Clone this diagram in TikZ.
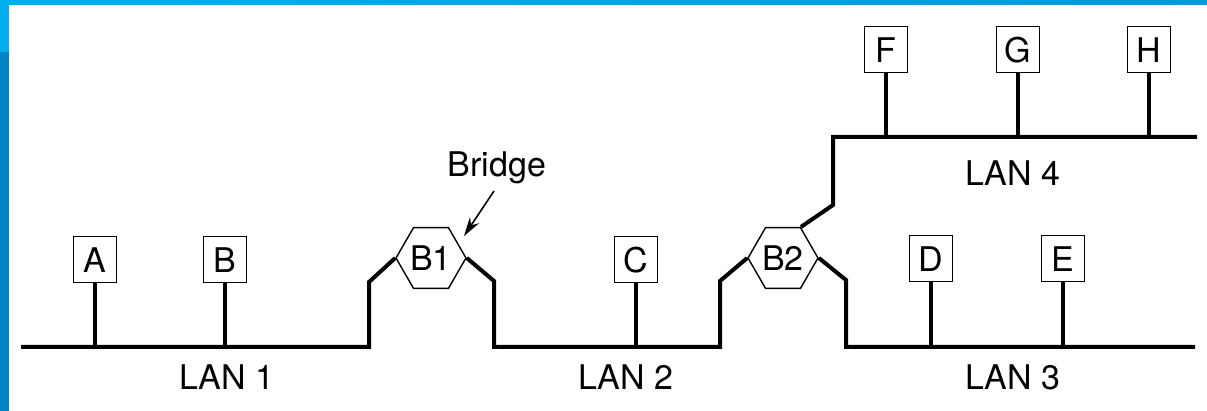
\documentclass[tikz,border=0pt]{standalone}
\usepackage{fontspec}
\setmainfont{TeX Gyre Heros}
\usetikzlibrary{arrows.meta,positioning,shapes.geometric}
\definecolor{skyA}{HTML}{00AEEF}
\definecolor{skyB}{HTML}{0098D8}
\definecolor{skyC}{HTML}{0086C5}
\newcommand\lanfont{\fontsize{34}{40}\selectfont}

\begin{document}
\begin{tikzpicture}[x=1pt, y=-1pt,
  stn/.style={draw, line width=1pt, minimum width=43pt, minimum height=46pt,
              inner sep=0pt, font=\lanfont},
  brg/.style={draw, line width=1.4pt, regular polygon, regular polygon sides=6,
              minimum size=70pt, inner sep=0pt, font=\lanfont},
  lan/.style={line width=4pt},
  lbl/.style={inner sep=2pt, font=\lanfont},
  >=Stealth]
  % backdrop
  \fill[white] (0,0) rectangle (1207,411);
  \shade[left color=skyA, right color=skyB] (0,0) rectangle (1207,5);
  \fill[skyA] (0,5) rectangle (9,52);
  \fill[skyC] (0,52) rectangle (9,411);

  % bridges
  \node[brg] (b1) at (431,258) {B1};
  \node[brg] (b2) at (783,258) {B2};
  \node[lbl] (brlab) at (497,168) {Bridge};
  \coordinate (tail) at (494,191);
  \coordinate (tip) at (464,236);
  \draw[->, line width=1.6pt, >={Stealth[length=19pt,width=11pt]}] (tail) -- (tip);

  % LAN 1
  \coordinate (l1w) at (21,347);
  \coordinate (l1e) at (369,347);
  \coordinate (k1) at (369,282);
  \draw[lan] (l1w) -- (l1e) -- (k1) -- (b1.180);
  \node[stn] (a) at (95,260) {A};
  \node[stn] (b) at (225,260) {B};
  \draw[lan] (a) -- (a |- l1w);
  \draw[lan] (b) -- (b |- l1w);
  \node[lbl] (lan1) at (227,377) {LAN 1};

  % LAN 2
  \coordinate (k2) at (494,281);
  \coordinate (l2w) at (494,347);
  \coordinate (l2e) at (720,347);
  \coordinate (k3) at (720,281);
  \draw[lan] (b1.0) -- (k2) -- (l2w) -- (l2e) -- (k3) -- (b2.180);
  \node[stn] (c) at (636,260) {C};
  \draw[lan] (c) -- (c |- l2w);
  \node[lbl] (lan2) at (626,377) {LAN 2};

  % LAN 3
  \coordinate (k4) at (846,280);
  \coordinate (l3w) at (846,347);
  \coordinate (l3e) at (1195,347);
  \draw[lan] (b2.0) -- (k4) -- (l3w) -- (l3e);
  \node[stn] (d) at (931,259) {D};
  \node[stn] (e) at (1063,259) {E};
  \draw[lan] (d) -- (d |- l3w);
  \draw[lan] (e) -- (e |- l3w);
  \node[lbl] (lan3) at (1013,377) {LAN 3};

  % LAN 4
  \coordinate (k5) at (833,205);
  \coordinate (l4w) at (833,137);
  \coordinate (l4e) at (1197,137);
  \draw[lan] (b2.60) -- (k5) -- (l4w) -- (l4e);
  \node[stn] (f) at (886,50) {F};
  \node[stn] (g) at (1018,50) {G};
  \node[stn] (h) at (1149,50) {H};
  \draw[lan] (f) -- (f |- l4w);
  \draw[lan] (g) -- (g |- l4w);
  \draw[lan] (h) -- (h |- l4w);
  \node[lbl] (lan4) at (1013,173) {LAN 4};
\end{tikzpicture}
\end{document}
